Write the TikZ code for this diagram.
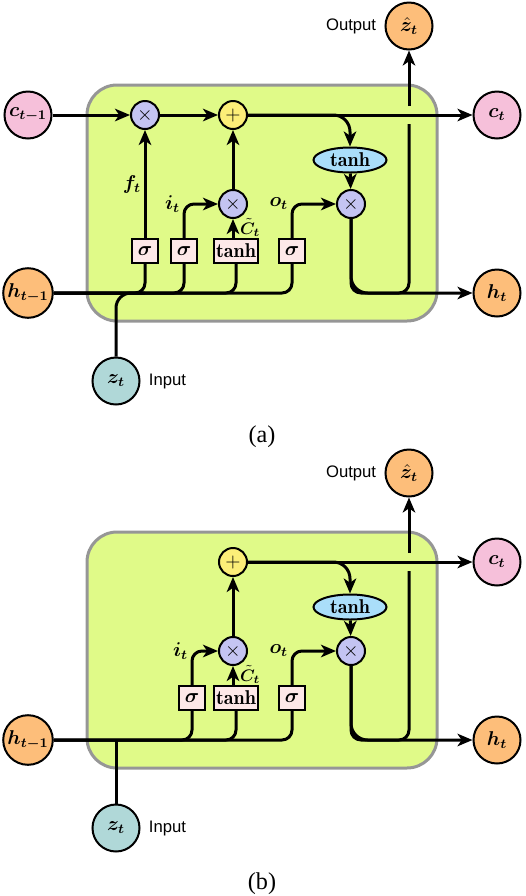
\documentclass[tikz,border=0pt]{standalone}
\usepackage{amsmath,bm}
\usepackage{fontspec}
\setsansfont{Liberation Sans}
\newfontfamily\capfont{Liberation Serif}
\usetikzlibrary{positioning,arrows.meta,shapes.geometric}
\definecolor{cellgreen}{RGB}{224,250,136}
\definecolor{cellgray}{RGB}{150,150,150}
\definecolor{statepink}{RGB}{246,192,218}
\definecolor{hidorange}{RGB}{253,190,122}
\definecolor{inteal}{RGB}{176,216,216}
\definecolor{opblue}{RGB}{196,196,242}
\definecolor{addyellow}{RGB}{252,238,120}
\definecolor{actblue}{RGB}{170,222,250}
\definecolor{gatepink}{RGB}{253,232,232}

\begin{document}
\begin{tikzpicture}[x=0.6pt,y=-0.6pt,>={Stealth[length=9pt,width=7.5pt,inset=2.5pt]},
  io/.style={circle,draw,line width=1.2pt,minimum size=28.2pt,inner sep=1pt,font=\large},
  op/.style={circle,draw,line width=1.2pt,fill=opblue,minimum size=16.8pt,inner sep=0pt,font=\large},
  gate/.style={draw,line width=1.2pt,fill=gatepink,minimum height=14.4pt,minimum width=15.6pt,inner sep=1.5pt,font=\large},
  act/.style={ellipse,draw,line width=1.2pt,fill=actblue,minimum width=43.8pt,minimum height=15pt,inner sep=0pt,font=\large},
  cell/.style={draw=cellgray,fill=cellgreen,line width=1.8pt,rounded corners=18pt,minimum width=210pt,minimum height=141.6pt},
  wire/.style={line width=1.8pt,rounded corners=6pt},
  arr/.style={wire,->},
  tag/.style={font=\sffamily},
  lbl/.style={font=\large,inner sep=1.5pt},
  cand/.style={inner sep=0pt,anchor=south west,xshift=4pt,yshift=0.6pt},
  caption/.style={font=\capfont\fontsize{14.5}{17}\selectfont}]
\useasboundingbox (0,0) rectangle (526,896);

% (a) cell with forget gate
\node[cell] (cellA) at (262,203) {};
\node[io,fill=statepink] (cprevA) at (28,115) {$\bm{c_{t-1}}$};
\node[io,fill=statepink] (cA) at (497,115) {$\bm{c_t}$};
\node[io,fill=hidorange] (hprevA) at (28,293) {$\bm{h_{t-1}}$};
\node[io,fill=hidorange] (hA) at (497,293) {$\bm{h_t}$};
\node[io,fill=hidorange] (zhatA) at (409,26) {$\hat{\bm{z}}_{\bm{t}}$};
\node[io,fill=inteal] (zA) at (116,381) {$\bm{z_t}$};
\node[tag,left=1.5pt of zhatA] (outA) {Output};
\node[tag,right=1.5pt of zA] (inA) {Input};
\node[op] (mulfA) at (145,115) {$\times$};
\node[op,fill=addyellow] (addA) at (233,115) {$+$};
\node[op] (muliA) at (233,204) {$\times$};
\node[op] (muloA) at (351,204) {$\times$};
\node[act] (tanhcA) at (350,160) {$\mathbf{tanh}$};
\node[gate] (sigfA) at (145,251) {$\bm{\sigma}$};
\node[gate] (sigiA) at (184,251) {$\bm{\sigma}$};
\node[gate] (tanhgA) at (236,251) {$\mathbf{tanh}$};
\node[gate] (sigoA) at (292,251) {$\bm{\sigma}$};
\coordinate (xA) at (zhatA |- cA);

\draw[wire] (hprevA) -| (sigoA);
\draw[wire] (hprevA) -| (tanhgA);
\draw[wire] (hprevA) -| (sigiA);
\draw[wire] (hprevA) -| (sigfA);
\draw[wire,rounded corners=9pt] (zA) |- (sigfA |- hprevA);
\draw[arr] (sigfA) -- (mulfA) node[lbl,midway,left] {$\bm{f_t}$};
\draw[arr] (sigiA) |- (muliA) node[lbl,pos=0.5,left] {$\bm{i_t}$};
\draw[arr] (muliA |- tanhgA.north) coordinate (ctA) -- (muliA);
\node[cand] (ctlA) at (ctA) {$\bm{\tilde{C}_t}$};
\draw[arr] (sigoA) |- (muloA) node[lbl,pos=0.5,left] {$\bm{o_t}$};
\draw[arr] (muliA) -- (addA);
\draw[arr] (cprevA) -- (mulfA);
\draw[arr] (mulfA) -- (addA);
\draw[wire] (muloA) |- (zhatA |- hA) -- ([yshift=-5.4pt]xA);
\draw[arr] ([yshift=5.4pt]xA) -- (zhatA);
\draw[arr] (addA) -- (cA);
\draw[arr,rounded corners=10pt] (addA) -| (tanhcA);
\draw[arr] (tanhcA) -- (muloA);
\draw[arr,rounded corners=10pt] (muloA) |- (hA);
\node[caption] (capA) at (262,437) {(a)};

% (b) cell without forget gate
\node[cell] (cellB) at (262,650) {};
\node[io,fill=statepink] (cB) at (497,562) {$\bm{c_t}$};
\node[io,fill=hidorange] (hprevB) at (28,740) {$\bm{h_{t-1}}$};
\node[io,fill=hidorange] (hB) at (497,740) {$\bm{h_t}$};
\node[io,fill=hidorange] (zhatB) at (409,473) {$\hat{\bm{z}}_{\bm{t}}$};
\node[io,fill=inteal] (zB) at (116,828) {$\bm{z_t}$};
\node[tag,left=1.5pt of zhatB] (outB) {Output};
\node[tag,right=1.5pt of zB] (inB) {Input};
\node[op,fill=addyellow] (addB) at (233,562) {$+$};
\node[op] (muliB) at (233,651) {$\times$};
\node[op] (muloB) at (351,651) {$\times$};
\node[act] (tanhcB) at (350,607) {$\mathbf{tanh}$};
\node[gate] (sigiB) at (192,698) {$\bm{\sigma}$};
\node[gate] (tanhgB) at (236,698) {$\mathbf{tanh}$};
\node[gate] (sigoB) at (292,698) {$\bm{\sigma}$};
\coordinate (xB) at (zhatB |- cB);

\draw[wire] (hprevB) -| (sigoB);
\draw[wire] (hprevB) -| (tanhgB);
\draw[wire] (hprevB) -| (sigiB);
\draw[wire] (zB) -- (zB |- hprevB);
\draw[arr] (sigiB) |- (muliB) node[lbl,pos=0.5,left] {$\bm{i_t}$};
\draw[arr] (muliB |- tanhgB.north) coordinate (ctB) -- (muliB);
\node[cand] (ctlB) at (ctB) {$\bm{\tilde{C}_t}$};
\draw[arr] (sigoB) |- (muloB) node[lbl,pos=0.5,left] {$\bm{o_t}$};
\draw[arr] (muliB) -- (addB);
\draw[wire] (muloB) |- (zhatB |- hB) -- ([yshift=-5.4pt]xB);
\draw[arr] ([yshift=5.4pt]xB) -- (zhatB);
\draw[arr] (addB) -- (cB);
\draw[arr,rounded corners=10pt] (addB) -| (tanhcB);
\draw[arr] (tanhcB) -- (muloB);
\draw[arr,rounded corners=10pt] (muloB) |- (hB);
\node[caption] (capB) at (262,884) {(b)};
\end{tikzpicture}
\end{document}
